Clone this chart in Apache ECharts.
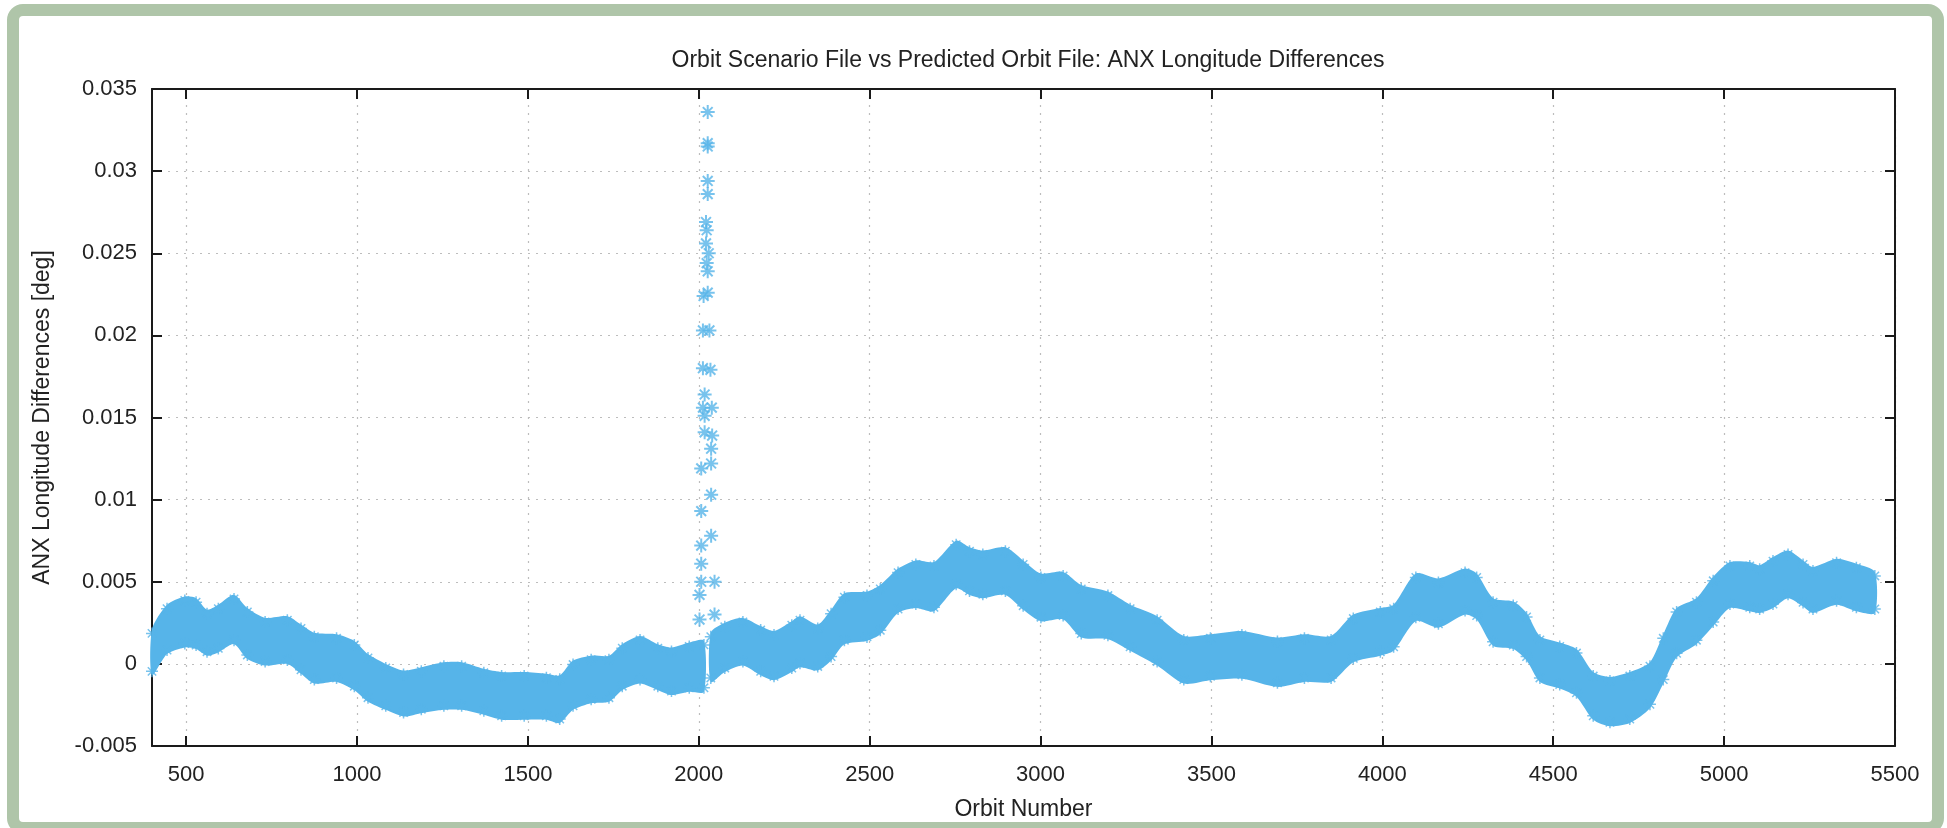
<!DOCTYPE html>
<html>
<head>
<meta charset="utf-8">
<title>ANX Longitude Differences</title>
<script src="https://cdn.jsdelivr.net/npm/echarts@6/dist/echarts.min.js"></script>
<style>
    html, body { margin: 0; padding: 0; background: #fff; }
    #main { width: 1947px; height: 828px; }
</style>
</head>
<body>
<div id="main"></div>
<script>
// edges of the dense band of points, read at sampled orbits (null = break at the jump)
var orbits = [400, 444, 496, 529, 561, 594, 640, 679, 731, 796, 836, 875, 940, 992, 1032, 1084, 1136, 1188, 1254, 1306,
    1371, 1423, 1489, 1554, 1593, 1632, 1685, 1737, 1776, 1828, 1880, 1920, 1972, 2015, 2025,
    2035, 2076, 2129, 2181, 2220, 2272, 2296, 2348, 2387, 2426, 2492, 2531, 2583, 2635, 2688, 2753, 2792, 2831, 2897,
    2949, 3001, 3066, 3119, 3197, 3262, 3341, 3419, 3497, 3589, 3693, 3772, 3850, 3915, 3994, 4033, 4098, 4164, 4242,
    4276, 4324, 4383, 4422, 4461, 4519, 4568, 4617, 4666, 4724, 4783, 4822, 4861, 4919, 4968, 5017, 5075, 5104, 5143,
    5187, 5231, 5260, 5329, 5387, 5441];
var bandTop = [0.0021, 0.0036, 0.0041, 0.0040, 0.0033, 0.0036, 0.0042, 0.0034, 0.0028, 0.0029, 0.0024, 0.0019, 0.0018, 0.0014, 0.0006, 0.0000, -0.0004, -0.0002, 0.0001, 0.0001,
    -0.0003, -0.0005, -0.0005, -0.0006, -0.0007, 0.0002, 0.0005, 0.0005, 0.0012, 0.0017, 0.0012, 0.0010, 0.0013, 0.0014, null,
    0.0019, 0.0025, 0.0028, 0.0023, 0.0020, 0.0026, 0.0029, 0.0024, 0.0033, 0.0043, 0.0044, 0.0048, 0.0058, 0.0063, 0.0062, 0.0075, 0.0071, 0.0069, 0.0071,
    0.0063, 0.0055, 0.0056, 0.0048, 0.0044, 0.0036, 0.0029, 0.0017, 0.0018, 0.0020, 0.0016, 0.0018, 0.0017, 0.0030, 0.0034, 0.0036, 0.0055, 0.0052, 0.0058,
    0.0055, 0.0040, 0.0038, 0.0031, 0.0017, 0.0013, 0.0009, -0.0005, -0.0008, -0.0005, 0.0001, 0.0018, 0.0034, 0.0040, 0.0053, 0.0062, 0.0062, 0.0060, 0.0065,
    0.0069, 0.0063, 0.0059, 0.0064, 0.0061, 0.0056];
var bandBottom = [-0.0007, 0.0006, 0.0010, 0.0009, 0.0005, 0.0007, 0.0012, 0.0003, -0.0001, 0.0000, -0.0006, -0.0012, -0.0011, -0.0016, -0.0023, -0.0028, -0.0032, -0.0030, -0.0028, -0.0028,
    -0.0031, -0.0034, -0.0034, -0.0034, -0.0036, -0.0028, -0.0024, -0.0023, -0.0016, -0.0012, -0.0016, -0.0019, -0.0017, -0.0017, null,
    -0.0011, -0.0005, -0.0001, -0.0007, -0.0010, -0.0005, -0.0002, -0.0004, 0.0002, 0.0012, 0.0014, 0.0018, 0.0031, 0.0034, 0.0032, 0.0046, 0.0042, 0.0040, 0.0042,
    0.0033, 0.0026, 0.0027, 0.0016, 0.0015, 0.0008, -0.0001, -0.0012, -0.0010, -0.0009, -0.0014, -0.0011, -0.0011, 0.0001, 0.0005, 0.0008, 0.0026, 0.0022, 0.0030,
    0.0027, 0.0011, 0.0009, 0.0002, -0.0011, -0.0015, -0.0020, -0.0034, -0.0038, -0.0036, -0.0027, -0.0012, 0.0004, 0.0012, 0.0023, 0.0034, 0.0032, 0.0031, 0.0034,
    0.0040, 0.0035, 0.0031, 0.0036, 0.0032, 0.0031];

// single points of the jump near orbit 2000
var spikeOrbits = [2026, 2026, 2026, 2026, 2026, 2021, 2023, 2021, 2029, 2023, 2026, 2026, 2014, 2012, 2031, 2012, 2034, 2017,
    2012, 2038, 2017, 2017, 2039, 2036, 2007, 2036, 2036, 2007, 2036, 2007, 2007, 2007, 2046, 2002, 2046, 2002];
var spikeValues = [0.0336, 0.0317, 0.0315, 0.0294, 0.0286, 0.0269, 0.0264, 0.0256, 0.0250, 0.0244, 0.0239, 0.0226, 0.0224, 0.0203, 0.0203, 0.0180, 0.0179, 0.0164,
    0.0156, 0.0156, 0.0151, 0.0141, 0.0139, 0.0131, 0.0119, 0.0122, 0.0103, 0.0093, 0.0078, 0.0072, 0.0061, 0.0050, 0.0050, 0.0042, 0.0030, 0.0027];

var xTicks = [500, 1000, 1500, 2000, 2500, 3000, 3500, 4000, 4500, 5000, 5500];

var BLUE = '#56b4e9';
var FONT = '"Liberation Sans", Arial, Helvetica, sans-serif';
var STAR = 'path://M5 0L5 10M0 5L10 5M1.5 1.5L8.5 8.5M8.5 1.5L1.5 8.5';

// split the band into runs between the null breaks
var segments = [];
var run = [];
for (var i = 0; i < orbits.length; i++) {
    if (bandTop[i] === null) {
        if (run.length) segments.push(run);
        run = [];
    } else {
        run.push(i);
    }
}
if (run.length) segments.push(run);

function renderBand(params, api) {
    var seg = segments[api.value(2)];
    var pts = [];
    seg.forEach(function (k) { pts.push(api.coord([orbits[k], bandTop[k]])); });
    seg.slice().reverse().forEach(function (k) { pts.push(api.coord([orbits[k], bandBottom[k]])); });
    return {type: 'polygon', shape: {points: pts, smooth: 0.25}, style: {fill: BLUE}};
}

var topEdge = [], bottomEdge = [];
for (var j = 0; j < orbits.length; j++) {
    if (bandTop[j] === null) continue;
    topEdge.push([orbits[j], bandTop[j]]);
    bottomEdge.push([orbits[j], bandBottom[j]]);
}
var spikeData = spikeOrbits.map(function (o, k) { return [o, spikeValues[k]]; });

var gridLine = {show: true, lineStyle: {color: '#bdbdbd', width: 1.2, type: [2, 6]}};
var axisLineStyle = {show: true, onZero: false, lineStyle: {color: '#1a1a1a', width: 2}};
var tickStyle = {show: true, inside: true, length: 10, lineStyle: {color: '#1a1a1a', width: 2}};

var chart = echarts.init(document.getElementById('main'));
chart.setOption({
    backgroundColor: '#fff',
    animation: false,
    graphic: [{
        type: 'rect', silent: true, z: -10,
        shape: {x: 13, y: 10, width: 1925, height: 818, r: 10},
        style: {fill: 'transparent', stroke: '#afc5a9', lineWidth: 12}
    }],
    title: {
        text: 'Orbit Scenario File vs Predicted Orbit File: ANX Longitude Differences',
        left: 1023, top: 44, textAlign: 'center',
        textStyle: {fontSize: 23, fontWeight: 'normal', color: '#222', fontFamily: FONT}
    },
    grid: {left: 152, top: 89, right: 52, bottom: 82, containLabel: false, outerBoundsMode: 'none'},
    xAxis: [{
        type: 'value', min: 400, max: 5500, position: 'bottom',
        name: 'Orbit Number', nameLocation: 'middle', nameGap: 52,
        nameTextStyle: {fontSize: 23, color: '#222', fontFamily: FONT},
        axisLine: axisLineStyle,
        axisTick: Object.assign({customValues: xTicks}, tickStyle),
        axisLabel: {
            customValues: xTicks, margin: 18, fontSize: 22, color: '#222', fontFamily: FONT,
            formatter: function (v) { return String(v); }
        },
        splitLine: gridLine
    }, {
        type: 'value', min: 400, max: 5500, position: 'top',
        axisLine: axisLineStyle,
        axisTick: Object.assign({customValues: xTicks}, tickStyle),
        axisLabel: {show: false},
        splitLine: {show: false}
    }],
    yAxis: [{
        type: 'value', min: -0.005, max: 0.035, interval: 0.005, position: 'left',
        name: 'ANX Longitude Differences [deg]', nameLocation: 'middle', nameGap: 98,
        nameTextStyle: {fontSize: 23, color: '#222', fontFamily: FONT},
        axisLine: axisLineStyle,
        axisTick: tickStyle,
        axisLabel: {
            margin: 15, fontSize: 22, color: '#222', fontFamily: FONT,
            formatter: function (v) { return String(+v.toFixed(3)); }
        },
        splitLine: gridLine
    }, {
        type: 'value', min: -0.005, max: 0.035, interval: 0.005, position: 'right',
        axisLine: axisLineStyle,
        axisTick: tickStyle,
        axisLabel: {show: false},
        splitLine: {show: false}
    }],
    series: [{
        type: 'custom',
        renderItem: renderBand,
        encode: {x: 0, y: 1},
        data: segments.map(function (s, k) { return [orbits[s[0]], bandTop[s[0]], k]; }),
        silent: true
    }, {
        type: 'scatter', symbol: STAR, symbolSize: 12, symbolOffset: [0, 4],
        itemStyle: {color: BLUE, borderColor: BLUE, borderWidth: 1.5},
        data: topEdge, silent: true
    }, {
        type: 'scatter', symbol: STAR, symbolSize: 12, symbolOffset: [0, -4],
        itemStyle: {color: BLUE, borderColor: BLUE, borderWidth: 1.5},
        data: bottomEdge, silent: true
    }, {
        type: 'scatter', symbol: STAR, symbolSize: 14,
        itemStyle: {color: BLUE, borderColor: BLUE, borderWidth: 2},
        data: spikeData, silent: true
    }]
});
</script>
</body>
</html>
